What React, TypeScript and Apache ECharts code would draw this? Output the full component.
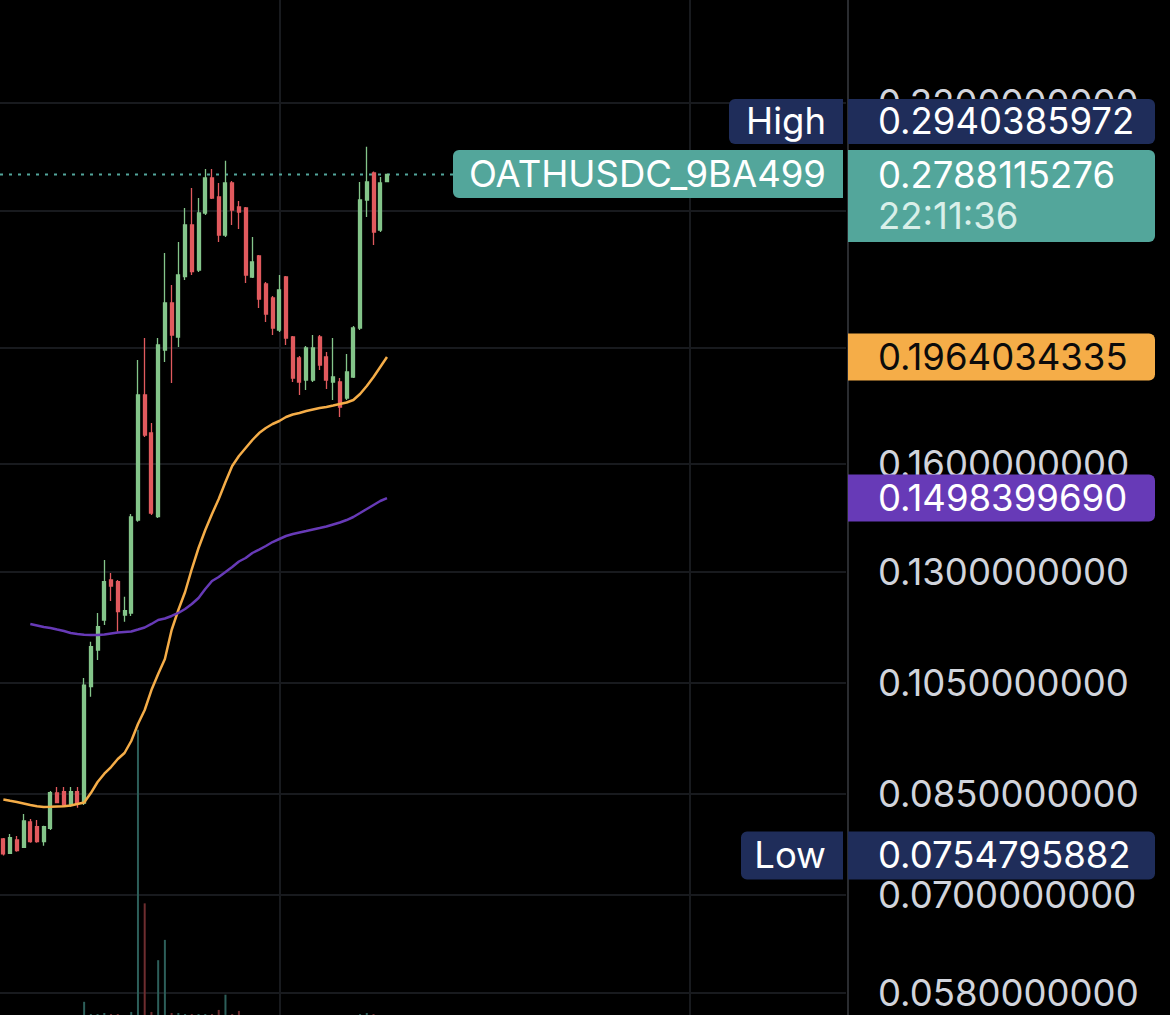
import React, { useEffect, useRef } from "react";
import * as echarts from "echarts";

// ---------- data ----------
const SLOT_COUNT = 126;
const slotLabels: string[] = Array.from({ length: SLOT_COUNT }, (_, i) => `${i}`);

const opens = [
  0.07791, 0.0758, 0.07776, 0.07668, 0.08049, 0.07977, 0.07751, 0.07952, 0.0851, 0.08531,
  0.08316, 0.08531, 0.08348, 0.10435, 0.11196, 0.11859, 0.12805, 0.12764, 0.11974, 0.1202,
  0.14367, 0.18261, 0.16977, 0.14459, 0.19908, 0.21787, 0.20411, 0.22914, 0.25304, 0.23211,
  0.25894, 0.27692, 0.26701, 0.24823, 0.27428, 0.26193, 0.26143, 0.22901, 0.23843, 0.22596,
  0.21996, 0.20687, 0.22901, 0.20411, 0.19605, 0.18794, 0.18794, 0.20411, 0.19642, 0.18723,
  0.18723, 0.18156, 0.18903, 0.20767, 0.26548, 0.27959, 0.25062, 0.27496,
];
const closes = [
  0.0757, 0.0781, 0.07618, 0.08065, 0.07751, 0.07751, 0.07977, 0.08515, 0.08353, 0.08316,
  0.08531, 0.08343, 0.10468, 0.11267, 0.11708, 0.12764, 0.12659, 0.1205, 0.12073, 0.1445,
  0.18261, 0.16912, 0.14561, 0.201, 0.21787, 0.20489, 0.22989, 0.25304, 0.23135, 0.25894,
  0.27692, 0.2665, 0.24823, 0.27428, 0.26043, 0.25943, 0.22989, 0.2357, 0.21955, 0.21332,
  0.20767, 0.22337, 0.20372, 0.18867, 0.18723, 0.19984, 0.19984, 0.19343, 0.18794, 0.18903,
  0.17846, 0.19085, 0.20767, 0.26548, 0.2748, 0.24967, 0.27428, 0.2788115276,
];
const lows = [
  0.0754795882, 0.0757, 0.07603, 0.07657, 0.07736, 0.07736, 0.07691, 0.07927, 0.08348, 0.08289,
  0.08289, 0.08273, 0.08316, 0.10237, 0.10983, 0.11746, 0.123, 0.11596, 0.11821, 0.11951,
  0.1432, 0.16848, 0.14506, 0.14423, 0.19455, 0.18687, 0.20023, 0.22769, 0.22989, 0.23122,
  0.25794, 0.26599, 0.24492, 0.24728, 0.25304, 0.2511, 0.22639, 0.22857, 0.21579, 0.21007,
  0.20489, 0.20608, 0.201, 0.18723, 0.18261, 0.18437, 0.18723, 0.19159, 0.18473, 0.18087,
  0.17506, 0.18087, 0.18867, 0.20687, 0.25696, 0.24351, 0.24967, 0.2748,
];
const highs = [
  0.07806, 0.07866, 0.07836, 0.08174, 0.08096, 0.0808, 0.07992, 0.08542, 0.08608, 0.08608,
  0.08608, 0.08608, 0.10609, 0.11376, 0.1202, 0.13306, 0.12978, 0.12805, 0.12402, 0.14534,
  0.1953, 0.20372, 0.17306, 0.20372, 0.2398, 0.22552, 0.24492, 0.26143, 0.27166, 0.2665,
  0.28174, 0.28174, 0.27428, 0.28627, 0.27533, 0.26497, 0.26193, 0.24728, 0.23889, 0.22682,
  0.22081, 0.22989, 0.2295, 0.2045, 0.1968, 0.20061, 0.20489, 0.20489, 0.19832, 0.20372,
  0.18867, 0.19756, 0.20846, 0.2748, 0.2940385972, 0.28033, 0.27745, 0.2789,
];
const volumes = [
  0, 0, 0, 0, 0, 0, 0, 0, 0, 0,
  0, 0, 13, 1, 1, 2, 1, 1, 0, 3,
  281, 110, 3, 54, 74, 2, 2, 1, 1, 1,
  1, 1, 5, 20, 1, 4, 0, 0, 0, 0,
  0, 0, 0, 0, 0, 0, 0, 0, 0, 0,
  0, 0, 0, 1, 2, 1, 0, 0,
];
// orange moving average
const maFast = [
  0.08404, 0.08383, 0.08364, 0.08341, 0.08315, 0.08296, 0.08284, 0.08287, 0.08292, 0.08296,
  0.08307, 0.08331, 0.08355, 0.08509, 0.08691, 0.0883, 0.08944, 0.09083, 0.09188, 0.09402,
  0.09714, 0.09978, 0.10368, 0.10691, 0.11004, 0.11634, 0.12089, 0.12514, 0.13078, 0.13616,
  0.14094, 0.14534, 0.14958, 0.15454, 0.15936, 0.16244, 0.16496, 0.16751, 0.16977, 0.17141,
  0.17273, 0.17373, 0.17506, 0.17591, 0.17641, 0.17709, 0.1776, 0.17811, 0.17846, 0.17897,
  0.17949, 0.18, 0.18087, 0.18296, 0.18579, 0.18903, 0.19269, 0.1964034335,
];
// purple moving average
const maSlow = [
  null, null, null, null, 0.11769, 0.11735, 0.11701, 0.11679, 0.11645, 0.11612,
  0.11567, 0.11545, 0.1153, 0.11523, 0.11523, 0.11534, 0.11556, 0.11578, 0.1159, 0.11601,
  0.11645, 0.1169, 0.11769, 0.11859, 0.11894, 0.11951, 0.1202, 0.12112, 0.12229, 0.12371,
  0.12586, 0.12781, 0.12879, 0.13003, 0.13129, 0.13268, 0.13357, 0.13486, 0.13576, 0.13668,
  0.13773, 0.13853, 0.13933, 0.13986, 0.14027, 0.14067, 0.14108, 0.14148, 0.14189, 0.14244,
  0.14299, 0.14367, 0.1445, 0.14561, 0.14674, 0.14787, 0.14901, 0.149839969,
];

const tickValues = [0.058, 0.07, 0.085, 0.105, 0.13, 0.16, 0.2, 0.26, 0.32];
const tickLabels = tickValues.map((v) => v.toFixed(10));
const verticalGridSlots = [41, 102];

const ticker = "OATHUSDC_9BA499";
const lastPrice = 0.2788115276;
const countdown = "22:11:36";
const highValue = 0.2940385972;
const lowValue = 0.0754795882;
const maFastLast = 0.1964034335;
const maSlowLast = 0.149839969;

const Y_MIN = 0.05558;
const Y_MAX = 0.38965;

// ---------- styles ----------
const UP = "#84c58a";
const DOWN = "#e15a5e";
const VOL_UP = "#2d5f5a";
const VOL_DOWN = "#6e2d2f";
const ORANGE = "#f5ad48";
const PURPLE = "#673ab7";
const TEAL = "#53a69b";
const NAVY = "#1f2d5a";
const GRID = "#181a1e";
const AXIS_TEXT = "#d1d4dc";
const FONT = "Inter, 'Noto Sans', sans-serif";
const FS = 36.5;
const PLOT_RIGHT = 846;

export default function App() {
  const ref = useRef<HTMLDivElement>(null);

  useEffect(() => {
    document.body.style.margin = "0";
    document.body.style.background = "#000";
    const chart = echarts.init(ref.current!, null, { renderer: "svg" });

    const candleData = opens.map((o, i) => [o, closes[i], lows[i], highs[i]]);
    const volData = volumes.map((v, i) => ({
      value: v,
      itemStyle: { color: closes[i] >= opens[i] ? VOL_UP : VOL_DOWN },
    }));

    const vLines = verticalGridSlots.map((s) => ({
      xAxis: s,
      label: { show: false },
      lineStyle: { color: GRID, width: 2, type: "solid" },
    }));

    chart.setOption({
      animation: false,
      backgroundColor: "#000",
      grid: { left: -2, right: 322, top: 0, bottom: 0 },
      xAxis: {
        type: "category",
        data: slotLabels,
        boundaryGap: true,
        axisLine: { show: false },
        axisTick: { show: false },
        axisLabel: { show: false },
        splitLine: { show: false },
      },
      yAxis: [
        {
          type: "log",
          logBase: 10,
          min: Y_MIN,
          max: Y_MAX,
          position: "right",
          axisLine: { show: true, lineStyle: { color: "#2a2c30", width: 2 } },
          axisTick: { show: false },
          axisLabel: { show: false },
          splitLine: { show: false },
        },
        { type: "value", min: 0, max: 1000, show: false },
      ],
      series: [
        {
          type: "bar",
          yAxisIndex: 1,
          data: volData,
          barWidth: 2,
          z: 2,
          silent: true,
        },
        {
          type: "candlestick",
          data: candleData,
          barWidth: 3.5,
          z: 3,
          itemStyle: {
            color: UP,
            color0: DOWN,
            borderColor: UP,
            borderColor0: DOWN,
            borderWidth: 1.3,
          },
          markLine: {
            silent: true,
            symbol: ["none", "none"],
            animation: false,
            z: 1,
            data: vLines,
          },
        },
        {
          type: "line",
          data: maFast,
          showSymbol: false,
          symbol: "none",
          lineStyle: { color: ORANGE, width: 2.5 },
          z: 4,
        },
        {
          type: "line",
          data: maSlow,
          showSymbol: false,
          symbol: "none",
          lineStyle: { color: PURPLE, width: 2.5 },
          z: 4,
        },
      ],
    });

    const y = (v: number) => chart.convertToPixel({ yAxisIndex: 0 }, v) as number;
    const yLast = y(lastPrice);
    const yHigh = y(highValue);
    const yLow = y(lowValue);
    const yFast = y(maFastLast);
    const ySlow = y(maSlowLast);

    const curTop = yLast - 24.5;
    const highC = Math.min(yHigh, curTop - 6 - 22.5);

    const rect = (x: number, yy: number, w: number, h: number, fill: string, r: number[]) => ({
      type: "rect",
      z: 100,
      shape: { x, y: yy, width: w, height: h, r },
      style: { fill },
    });
    const text = (x: number, yy: number, t: string, fill: string, align: string, z = 101) => ({
      type: "text",
      z,
      style: {
        x,
        y: yy,
        text: t,
        fill,
        font: `${FS}px ${FONT}`,
        align,
        verticalAlign: "middle",
      },
    });
    const RL = [6, 0, 0, 6];
    const RR = [0, 6, 6, 0];

    const gridEls: any[] = [];
    tickValues.forEach((v, i) => {
      const yy = Math.round(y(v));
      gridEls.push({
        type: "line",
        z: -10,
        silent: true,
        shape: { x1: 0, y1: yy, x2: PLOT_RIGHT, y2: yy },
        style: { stroke: GRID, lineWidth: 2 },
      });
      gridEls.push(text(878, yy, tickLabels[i], AXIS_TEXT, "left", 1));
    });

    chart.setOption({
      graphic: [
        ...gridEls,
        {
          type: "line",
          z: 1,
          silent: true,
          shape: { x1: 0, y1: yLast, x2: 453, y2: yLast },
          style: { stroke: TEAL, lineWidth: 2, lineDash: [3, 6] },
        },
        // High
        rect(729, highC - 22.5, 114, 45, NAVY, RL),
        text(826, highC, "High", "#ffffff", "right"),
        rect(848, highC - 22.5, 307, 45, NAVY, RR),
        text(878, highC, highValue.toFixed(10), "#ffffff", "left"),
        // current price
        rect(453, curTop, 390, 48, TEAL, RL),
        text(826, curTop + 24, ticker, "#ffffff", "right"),
        rect(848, curTop, 307, 92, TEAL, RR),
        text(878, yLast + 1, lastPrice.toFixed(10), "#ffffff", "left"),
        text(878, yLast + 42, countdown, "#d9efe9", "left"),
        // fast MA
        rect(848, yFast - 23.5, 307, 47, ORANGE, RR),
        text(878, yFast, maFastLast.toFixed(10), "#0b0b0b", "left"),
        // slow MA
        rect(848, ySlow - 23.5, 307, 47, PURPLE, RR),
        text(878, ySlow, maSlowLast.toFixed(10), "#ffffff", "left"),
        // Low
        rect(741, yLow - 24, 102, 48, NAVY, RL),
        text(826, yLow, "Low", "#ffffff", "right"),
        rect(848, yLow - 24, 307, 48, NAVY, RR),
        text(878, yLow, lowValue.toFixed(10), "#ffffff", "left"),
      ],
    });

    return () => chart.dispose();
  }, []);

  return (
    <div
      ref={ref}
      style={{ position: "fixed", left: 0, top: 0, width: 1170, height: 1015, background: "#000" }}
    />
  );
}
